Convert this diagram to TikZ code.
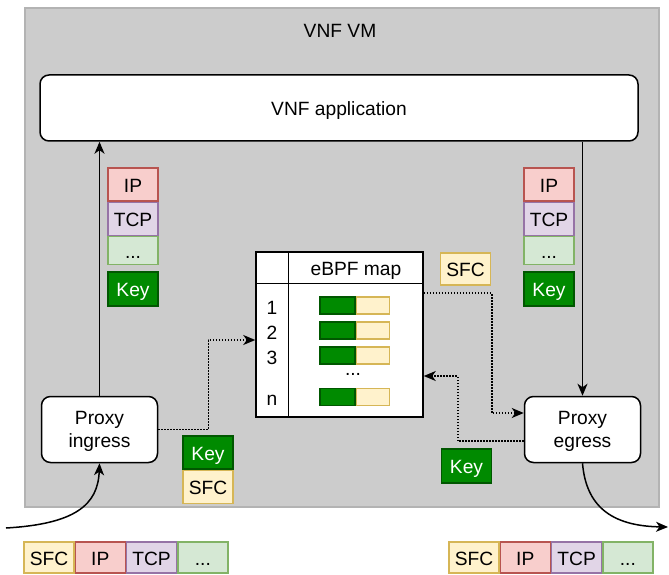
\documentclass[tikz,border=0pt]{standalone}
\usepackage{fontspec}
\setmainfont{Liberation Sans}
\usetikzlibrary{arrows.meta,positioning}
\definecolor{vmfill}{HTML}{CCCCCC}
\definecolor{vmline}{HTML}{B3B3B3}
\definecolor{sfcfill}{HTML}{FFF2CC}
\definecolor{sfcline}{HTML}{D6B656}
\definecolor{ipfill}{HTML}{F8CECC}
\definecolor{ipline}{HTML}{B85450}
\definecolor{tcpfill}{HTML}{E1D5E7}
\definecolor{tcpline}{HTML}{9673A6}
\definecolor{dotfill}{HTML}{D5E8D4}
\definecolor{dotline}{HTML}{82B366}
\definecolor{keyfill}{HTML}{008A00}
\definecolor{keyline}{HTML}{005700}

\begin{document}
\begin{tikzpicture}[x=1pt,y=-1pt,
    every node/.style={font=\fontsize{19.2}{22.6}\selectfont,text height=15pt,text depth=0pt},
    field/.style={draw,line width=1.3pt,inner sep=0pt,minimum width=50pt,minimum height=33pt},
    sfc/.style={field,fill=sfcfill,draw=sfcline},
    ipf/.style={field,fill=ipfill,draw=ipline},
    tcpf/.style={field,fill=tcpfill,draw=tcpline},
    dotsf/.style={field,fill=dotfill,draw=dotline},
    keyf/.style={field,fill=keyfill,draw=keyline,text=white},
    bar/.style={draw,line width=1.1pt,inner sep=0pt,minimum height=17pt},
    keybar/.style={bar,fill=keyfill,draw=keyline,minimum width=35pt},
    valbar/.style={bar,fill=sfcfill,draw=sfcline,minimum width=33pt},
    proxy/.style={draw,line width=1.5pt,fill=white,rounded corners=9pt,minimum width=116pt,minimum height=66pt,align=center,text height={}},
    link/.style={line width=1.5pt,-{Stealth[length=12pt,width=10pt,inset=3.5pt]}},
    dotlink/.style={link,dash pattern=on 1.5pt off 1.5pt}]
  \useasboundingbox (0,0) rectangle (669,575);

  \node[draw=vmline,fill=vmfill,line width=1.2pt,minimum width=634pt,minimum height=499pt] (vm) at (342,257.5) {};
  \node (vmlabel) at (340,30.5) {VNF VM};
  \node[draw,line width=1.5pt,fill=white,rounded corners=9pt,minimum width=598pt,minimum height=66pt] (app) at (339,108) {VNF application};

  \node[proxy] (ing) at (99.5,429.5) {Proxy\\ingress};
  \node[proxy] (egr) at (582.5,429.5) {Proxy\\egress};

  \node[ipf] (ipl) at (133,184.5) {IP};
  \node[tcpf,below=0pt of ipl] (tcpl) {TCP};
  \node[dotsf,minimum height=28pt,below=0pt of tcpl] (dotsl) {...};
  \node[keyf,minimum height=34pt] (keyl) at (133,289) {Key};

  \node[ipf] (ipr) at (549,184.5) {IP};
  \node[tcpf,below=0pt of ipr] (tcpr) {TCP};
  \node[dotsf,minimum height=28pt,below=0pt of tcpr] (dotsr) {...};
  \node[keyf,minimum height=34pt] (keyr) at (549,289) {Key};

  \node[draw,line width=1.5pt,fill=white,minimum width=167pt,minimum height=165pt] (map) at (339.5,334.5) {};
  \draw[line width=1.5pt] ([yshift=-32pt]map.north west) -- ([yshift=-32pt]map.north east);
  \draw[line width=1.5pt] ([xshift=33pt]map.north west) -- ([xshift=33pt]map.south west);
  \node (maptitle) at (356,267.5) {eBPF map};
  \foreach \n/\y in {1/305.5,2/330.5,3/355.5,n/397}{
    \node (idx\n) at (272,\y+1) {\n};
    \node[keybar] (kb\n) at (337.5,\y) {};
    \node[valbar,right=0pt of kb\n] (vb\n) {};
  }
  \node (mapdots) at (353,367.5) {...};

  \node[sfc,minimum height=32pt] (sfcmap) at (465.5,269) {SFC};
  \node[keyf] (keyi) at (208,452.5) {Key};
  \node[sfc,below=0pt of keyi] (sfci) {SFC};
  \node[keyf,minimum height=34pt] (keye) at (466.5,466) {Key};

  \node[sfc,minimum height=31pt] (sfcin) at (49,557.5) {SFC};
  \node[ipf,minimum height=31pt,right=0pt of sfcin] (ipin) {IP};
  \node[tcpf,minimum height=31pt,right=0pt of ipin] (tcpin) {TCP};
  \node[dotsf,minimum height=31pt,right=0pt of tcpin] (dotsin) {...};

  \node[sfc,minimum height=31pt] (sfcout) at (474,557.5) {SFC};
  \node[ipf,minimum height=31pt,right=0pt of sfcout] (ipout) {IP};
  \node[tcpf,minimum height=31pt,right=0pt of ipout] (tcpout) {TCP};
  \node[dotsf,minimum height=31pt,right=0pt of tcpout] (dotsout) {...};

  \coordinate (pin) at (6,528);
  \coordinate (pout) at (668,527);
  \draw[link] (pin) .. controls (75,524) and (98,505) .. (ing.south);
  \draw[link] (egr.south) .. controls (586,505) and (610,526) .. (pout);
  \draw[link] (ing.north) -- (ing.north |- app.south);
  \draw[link] (egr.north |- app.south) -- (egr.north);

  \draw[dotlink] (ing.east) -- ++(50,0) |- ([yshift=-5.5pt]map.west);
  \draw[dotlink] ([yshift=41.5pt]map.east) -- ++(68,0) |- ([yshift=16.5pt]egr.west);
  \draw[dotlink] ([yshift=-11.5pt]egr.west) -- ++(-66,0) |- ([yshift=-41.5pt]map.east);
\end{tikzpicture}
\end{document}
